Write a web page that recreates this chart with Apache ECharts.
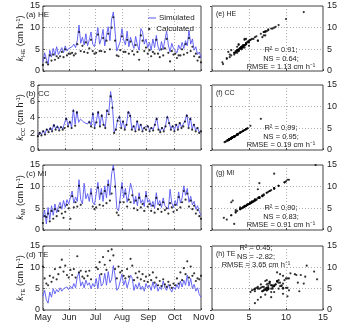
<!DOCTYPE html>
<html>
<head>
<meta charset="utf-8">
<script src="https://cdn.jsdelivr.net/npm/echarts@6/dist/echarts.min.js"></script>
<style>
  html, body { margin: 0; padding: 0; background: #fff; }
  #chart { width: 340px; height: 322px; }
</style>
</head>
<body>
<div id="chart"></div>
<script>
// months on the time axis (May 1 .. Nov 1), values every 2 days
const months = ['May', 'Jun', 'Jul', 'Aug', 'Sep', 'Oct', 'Nov'];
const dayStep = 2;

// (a) HE
const heSim = [
  2.0, 4.2, 2.8, 1.6, 4.8, 3.2, 5.2, 3.6, 5.6, 3.8, 4.6, 5.4, 4.2, 5.8, 4.6, 5.2,
  5.0, 5.6, 6.2, 5.4, 7.0, 10.6, 6.4, 7.8, 6.0, 8.6, 5.8, 7.2, 9.0, 6.2, 5.6,
  5.4, 10.0, 6.2, 7.4, 9.6, 5.8, 8.2, 10.2, 7.0, 12.0, 13.6, 9.0, 4.6, 4.2, 6.8,
  9.8, 7.2, 6.0, 9.2, 5.6, 7.8, 6.4, 5.2, 8.0, 6.0, 4.8, 9.8, 9.0, 6.2, 7.4, 5.4,
  6.6, 4.8, 7.4, 5.4, 8.2, 5.6, 4.6, 6.8, 5.0, 7.2, 9.2, 6.0, 4.4, 6.4, 5.2,
  5.6, 4.2, 6.0, 5.0, 6.6, 5.2, 7.0, 5.8, 9.4, 6.2, 7.4, 4.8, 5.6, 3.8, 4.4, 3.0
];
const heCalc = [
  1.4, 3.0, 2.0, 1.5, 3.6, 2.4, 3.8, 2.6, 3.4, 3.0, 3.4, 4.4, 3.2, 5.0, 3.6, 4.0,
  4.0, 4.2, 3.6, 4.0, 6.2, 9.0, 4.6, 5.8, 4.4, 6.6, 4.2, 5.2, 7.2, 4.6, 4.0,
  4.2, 8.4, 4.6, 4.6, 7.6, 4.4, 7.0, 8.6, 5.0, 10.0, 12.4, 7.0, 3.6, 3.4, 4.8,
  8.0, 4.4, 4.4, 7.2, 4.0, 6.8, 4.6, 3.8, 6.0, 4.4, 2.6, 8.2, 7.0, 4.6, 5.4, 4.0,
  4.8, 3.4, 4.4, 4.0, 7.2, 4.0, 3.2, 5.0, 3.6, 5.2, 7.4, 4.2, 2.2, 4.6, 3.8,
  4.0, 3.0, 3.6, 3.6, 5.0, 3.8, 6.2, 4.2, 7.6, 4.6, 5.6, 3.4, 4.0, 2.4, 3.2, 2.0
];

// (b) CC
const ccSim = [
  1.8, 2.2, 1.9, 2.4, 2.0, 2.6, 2.3, 2.8, 2.4, 3.2, 2.6, 3.0, 2.5, 2.9, 2.6, 2.8,
  4.0, 3.0, 3.6, 2.8, 5.0, 3.2, 4.8, 3.4, 3.8, 3.6, 3.4, 3.5, 3.2, 3.6, 3.0,
  4.6, 2.8, 3.6, 4.8, 3.0, 4.4, 3.2, 2.8, 5.0, 4.6, 7.2, 5.6, 2.2, 2.6, 3.8,
  4.2, 2.8, 3.6, 2.6, 3.2, 4.8, 4.4, 2.6, 3.0, 2.4, 3.6, 2.6, 3.2, 2.4, 2.8, 2.6,
  3.0, 2.4, 2.8, 2.5, 3.2, 4.0, 2.6, 2.3, 2.8, 2.4, 3.0, 4.2, 3.4, 2.6, 3.0,
  2.4, 3.2, 2.6, 3.4, 2.8, 3.0, 3.6, 4.4, 2.8, 4.0, 2.6, 3.2, 2.4, 2.8, 2.2, 2.4
];
const ccCalc = [
  1.7, 2.1, 1.8, 2.3, 1.9, 2.5, 2.2, 2.6, 2.3, 3.0, 2.5, 2.8, 2.4, 2.8, 2.5, 2.7,
  3.8, 2.9, 3.4, 2.7, 4.8, 3.0, 4.6, null, null, null, null, null, null, 3.4, 2.9,
  4.4, 2.7, 3.4, 4.6, 2.9, 4.2, 3.1, 2.7, 4.8, 4.4, 6.6, 5.2, 2.1, 2.5, 3.6,
  4.0, 2.7, 3.5, 2.5, 3.1, 4.6, 4.2, 2.5, 2.9, 2.3, 3.5, 2.5, 3.1, 2.3, 2.7, 2.5,
  2.9, 2.3, 2.7, 2.4, 3.1, 3.8, 2.5, 2.2, 2.7, 2.3, 2.9, 4.0, 3.3, 2.5, 2.9,
  2.3, 3.1, 2.5, 3.3, 2.7, 2.9, 3.5, 4.2, 2.7, 3.8, 2.5, 3.1, 2.3, 2.7, 2.1, 2.3
];

// (c) MI
const miSim = [
  2.8, 4.6, 1.4, 5.2, 2.4, 5.6, 3.4, 6.0, 4.0, 5.4, 6.4, 4.8, 6.8, 5.2, 7.0, 6.0,
  6.4, 9.0, 6.2, 7.6, 6.6, 11.6, 7.0, 6.0, 10.8, 7.2, 8.4, 6.6, 9.6, 6.4, 5.8,
  6.2, 11.0, 7.0, 9.6, 6.6, 10.2, 7.4, 11.6, 8.0, 13.0, 15.0, 11.2, 5.0, 4.4, 7.6,
  11.0, 7.4, 9.6, 6.4, 8.2, 10.8, 9.2, 6.0, 7.8, 5.6, 8.6, 6.2, 7.0, 5.4, 9.0, 6.4,
  7.0, 5.4, 6.6, 5.0, 8.6, 5.8, 6.8, 5.2, 7.4, 5.6, 6.0, 4.8, 9.4, 6.2, 5.2,
  6.8, 5.6, 8.8, 6.2, 7.4, 10.2, 8.0, 9.6, 6.4, 7.8, 5.8, 6.6, 4.8, 5.6, 4.2, 3.4
];
const miCalc = [
  1.6, 3.2, 3.0, 3.8, 2.0, 4.4, 2.6, 4.8, 3.2, 4.4, 5.2, 3.8, 2.8, 4.2, 5.8, 5.0,
  2.6, 7.8, 5.2, 6.4, 5.4, 10.2, 5.8, null, null, null, null, null, 8.4, 5.4, 4.8,
  5.2, 9.8, 5.8, 8.4, 5.6, 9.0, 6.2, 10.4, 6.8, 8.4, 14.0, 10.0, 4.0, 3.4, 6.4,
  9.8, 6.4, 8.4, 5.4, 7.0, 6.4, 8.0, 5.0, 6.8, 4.6, 7.4, 5.2, 6.0, 4.4, 7.8, 5.4,
  6.0, 4.4, 5.6, 4.0, 7.4, 4.8, 5.8, 4.2, 6.4, 4.6, 5.0, 3.8, 6.2, 5.2, 4.2,
  5.8, 4.6, 7.6, 5.2, 6.4, 9.0, 7.0, 8.4, 5.4, 6.8, 4.8, 5.6, 3.8, 4.6, 3.2, 2.6
];

// (d) TE
const teSim = [
  3.2, 4.6, 2.4, 1.6, 4.2, 3.0, 5.0, 3.8, 4.8, 4.2, 5.2, 4.4, 5.0, 4.6, 5.4, 4.8,
  5.6, 5.0, 6.2, 5.2, 7.8, 8.8, 5.6, 6.6, 5.2, 7.0, 5.8, 6.4, 5.0, 6.2, 5.4,
  7.4, 5.0, 8.4, 5.6, 6.2, 8.6, 5.8, 9.0, 6.4, 7.2, 10.4, 8.0, 4.6, 5.2, 6.8,
  8.4, 5.8, 7.0, 5.2, 6.6, 8.2, 7.4, 4.6, 6.0, 5.0, 6.4, 4.8, 5.6, 4.4, 6.2, 5.2,
  5.8, 4.6, 6.6, 5.0, 6.2, 4.4, 5.4, 4.8, 6.8, 5.2, 4.6, 6.0, 5.0, 4.2, 5.4,
  4.8, 6.0, 5.0, 6.8, 5.4, 7.0, 5.8, 8.2, 5.6, 7.4, 5.0, 6.0, 4.4, 5.2, 3.6, 3.0
];
const teCalc = [
  10.2, 7.4, 6.2, 5.8, 8.0, 6.6, 7.6, 9.6, 7.2, 8.4, 10.0, 11.8, 9.0, 10.4, 8.2, 7.6,
  9.4, 8.2, 9.6, 7.6, 12.6, 8.8, 9.2, 7.8, 7.4, 9.0, 8.0, 9.2, 7.2, null, null,
  10.0, 9.6, 11.2, 8.4, 12.4, 10.6, 9.4, 13.8, 11.6, 14.2, 12.8, 9.6, 7.4, 10.2, 8.8,
  9.2, 8.0, 7.4, 9.6, 7.8, 12.0, 10.4, 7.0, 8.6, 7.6, 9.0, 7.2, 8.4, 6.8, 7.8, 6.6,
  8.2, 7.0, 8.8, 6.4, 7.6, 5.8, 6.8, 5.6, 7.2, 6.0, 5.4, 6.6, 5.8, 5.2, 6.2,
  5.8, 7.4, 6.2, 8.8, 7.0, 9.8, 8.4, 11.4, 7.6, 10.2, 8.0, 8.6, 6.8, 7.4, 7.2, 8.0
];

// fit statistics printed in the scatter panels
const statsHE = ['R\u00b2 = 0.91;', 'NS = 0.64;', 'RMSE = 1.13 cm h\u207b\u00b9'];
const statsCC = ['R\u00b2 = 0.99;', 'NS = 0.95;', 'RMSE = 0.19 cm h\u207b\u00b9'];
const statsMI = ['R\u00b2 = 0.90;', 'NS = 0.83;', 'RMSE = 0.91 cm h\u207b\u00b9'];
const statsTE = ['R\u00b2 = 0.45;', 'NS = -2.82;', 'RMSE = 3.65 cm h\u207b\u00b9'];

const FONT = '"Liberation Sans", Arial, sans-serif';
const BLUE = '#5757f0';
const DAYS = 184;

const panels = [
  { sub: 'HE', left: '(a) HE', right: '(e) HE', sim: heSim, calc: heCalc, ymax: 15, yint: 5, stats: statsHE, sx: 281, sy: 46 },
  { sub: 'CC', left: '(b) CC', right: '(f) CC', sim: ccSim, calc: ccCalc, ymax: 8, yint: 2, stats: statsCC, sx: 281, sy: 124 },
  { sub: 'MI', left: '(c) MI', right: '(g) MI', sim: miSim, calc: miCalc, ymax: 15, yint: 5, stats: statsMI, sx: 281, sy: 204 },
  { sub: 'TE', left: '(d) TE', right: '(h) TE', sim: teSim, calc: teCalc, ymax: 15, yint: 5, stats: statsTE, sx: 256, sy: 244 }
];
const tops = [6, 85, 165, 246];
const H = 65;

const grid = [], xAxis = [], yAxis = [], series = [], graphic = [];
const dotted = { show: true, lineStyle: { color: '#9a9a9a', type: [1, 2], width: 0.8 } };
const tick = { show: true, inside: true, length: 2, lineStyle: { color: '#444' } };
const lbl = { fontSize: 9, color: '#222', fontFamily: FONT };

panels.forEach((p, i) => {
  const gl = 2 * i, gr = 2 * i + 1;
  grid.push({ left: 22, top: tops[i], width: 179, height: H, show: true, borderColor: '#444', borderWidth: 1, backgroundColor: 'transparent' });
  grid.push({ left: 212, top: tops[i], width: 112, height: H, show: true, borderColor: '#444', borderWidth: 1, backgroundColor: 'transparent' });

  const last = i === panels.length - 1;
  xAxis.push({
    gridIndex: gl, type: 'value', min: 0, max: DAYS, interval: DAYS / 6,
    axisLine: { show: false }, axisTick: tick, splitLine: dotted,
    axisLabel: Object.assign({ show: last, margin: 3, formatter: v => months[Math.round(v / (DAYS / 6))] }, lbl)
  });
  xAxis.push({
    gridIndex: gr, type: 'value', min: 0, max: 15, interval: 5,
    axisLine: { show: false }, axisTick: tick, splitLine: dotted,
    axisLabel: Object.assign({ show: last, margin: 3 }, lbl)
  });
  yAxis.push({
    gridIndex: gl, type: 'value', min: 0, max: p.ymax, interval: p.yint,
    axisLine: { show: false }, axisTick: tick, splitLine: dotted,
    axisLabel: Object.assign({ margin: 3 }, lbl),
    name: '{k|k}{s|' + p.sub + '} (cm h{p|-1})',
    nameLocation: 'middle', nameRotate: 90, nameGap: 12,
    nameTextStyle: {
      fontSize: 9, color: '#222', fontFamily: FONT, lineHeight: 11,
      rich: {
        k: { fontStyle: 'italic', fontSize: 9, fontFamily: FONT, color: '#222' },
        s: { fontSize: 6, fontFamily: FONT, color: '#222', verticalAlign: 'bottom', lineHeight: 6 },
        p: { fontSize: 6, fontFamily: FONT, color: '#222', verticalAlign: 'top', lineHeight: 6 }
      }
    }
  });
  yAxis.push({
    gridIndex: gr, type: 'value', position: 'right', min: 0, max: 15, interval: 5,
    axisLine: { show: false }, axisTick: tick, splitLine: dotted,
    axisLabel: Object.assign({ margin: 4 }, lbl)
  });

  series.push({
    name: 'Simulated', type: 'line', xAxisIndex: gl, yAxisIndex: gl,
    data: p.sim.map((v, k) => [k * dayStep, v]),
    showSymbol: false, lineStyle: { color: BLUE, width: 0.9 }, itemStyle: { color: BLUE }, z: 2
  });
  series.push({
    name: 'Calculated', type: 'scatter', xAxisIndex: gl, yAxisIndex: gl,
    data: p.calc.map((v, k) => v == null ? null : [k * dayStep, v]).filter(d => d),
    symbol: 'circle', symbolSize: 2.2, itemStyle: { color: '#000' }, z: 3
  });
  // scatter: calculated (x) against simulated (y)
  series.push({
    type: 'scatter', xAxisIndex: gr, yAxisIndex: gr,
    data: p.calc.map((v, k) => v == null ? null : [v, p.sim[k]]).filter(d => d),
    symbol: 'circle', symbolSize: 2.2, itemStyle: { color: '#000' }, z: 3
  });

  graphic.push({ type: 'text', left: 26, top: tops[i] + 5, style: { text: p.left, font: '8px ' + FONT, fill: '#222' } });
  graphic.push({ type: 'text', left: 216, top: tops[i] + 5, style: { text: p.right, font: '7px ' + FONT, fill: '#222' } });
  p.stats.forEach((s, j) => {
    graphic.push({
      type: 'text', x: p.sx, y: p.sy + j * 8.5,
      style: { text: s, font: '7.5px ' + FONT, fill: '#222', align: 'center', verticalAlign: 'top' }
    });
  });
});

const chart = echarts.init(document.getElementById('chart'), null, { renderer: 'canvas' });
chart.setOption({
  animation: false,
  backgroundColor: '#fff',
  grid, xAxis, yAxis, series, graphic,
  legend: [
    {
      data: ['Simulated'], left: 143, top: 9, selectedMode: false,
      icon: 'rect', itemWidth: 8, itemHeight: 1, itemGap: 2,
      textStyle: { fontSize: 8, color: '#222', fontFamily: FONT, padding: [0, 0, 0, -2] }
    },
    {
      data: ['Calculated'], left: 143, top: 20, selectedMode: false,
      icon: 'circle', itemWidth: 8, itemHeight: 2.4, itemGap: 2,
      textStyle: { fontSize: 8, color: '#222', fontFamily: FONT, padding: [0, 0, 0, -2] }
    }
  ]
});
</script>
</body>
</html>
